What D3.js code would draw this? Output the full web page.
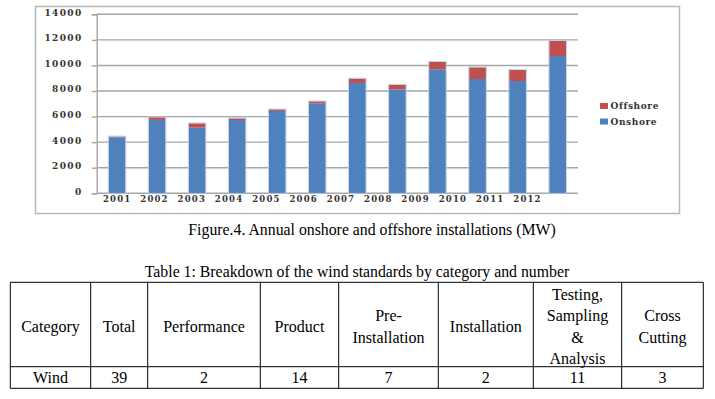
<!DOCTYPE html>
<html>
<head>
<meta charset="utf-8">
<script src="https://cdn.jsdelivr.net/npm/d3@7"></script>
<style>
  body { margin: 0; background: #fff; }
  svg { display: block; }
  .tick text { font-family: "DejaVu Serif", serif; font-weight: bold; font-size: 8.5px; fill: #333; letter-spacing: 1.2px; }
  .yaxis .tick text { font-size: 9px; letter-spacing: 1.4px; }
  .legend text { font-family: "DejaVu Serif", serif; font-weight: bold; font-size: 9px; fill: #333; letter-spacing: 0.6px; }
  .cap { font-family: "Liberation Serif", "Times New Roman", serif; font-size: 15.8px; fill: #000; }
  .cell { font-family: "Liberation Serif", "Times New Roman", serif; font-size: 16px; fill: #000; }
</style>
</head>
<body>
<div id="chart"></div>
<script>
var years = ["2001","2002","2003","2004","2005","2006","2007","2008","2009","2010","2011","2012"];
var onshore  = [4380, 5740, 5130, 5730, 6440, 7040, 8630, 8130, 9700, 8940, 8780, 10740];
var offshore = [ 60,  200,  340,  130,  120,  150,  340,  360,  570,  910,  860,  1170];
var yTicks = [0, 2000, 4000, 6000, 8000, 10000, 12000, 14000];
var seriesNames = ["Onshore", "Offshore"];
var seriesColors = ["#4f81bd", "#c0504d"];

var tableHead = ["Category", "Total", "Performance", "Product", "Pre-\nInstallation", "Installation", "Testing,\nSampling\n&\nAnalysis", "Cross\nCutting"];
var tableRow = ["Wind", "39", "2", "14", "7", "2", "11", "3"];

var svgWidth = 715;
var svgHeight = 399;
var svg = d3.select("#chart").append("svg")
  .attr("width", svgWidth)
  .attr("height", svgHeight);

// chart frame
svg.append("rect")
  .attr("x", 35.5).attr("y", 6.5)
  .attr("width", 644).attr("height", 207)
  .attr("fill", "#fff")
  .attr("stroke", "#b8b8b8")
  .attr("stroke-width", 1.5);

var plot = { left: 96.7, right: 578, top: 14.3, bottom: 193.3 };

var y = d3.scaleLinear().domain([0, 14000]).range([plot.bottom, plot.top]);
var x = d3.scaleBand().domain(years).range([plot.left, plot.right])
  .paddingInner(0.583).paddingOuter(0.3);
// year labels in the picture drift left of their bars
var xLabel = d3.scalePoint().domain(years).range([116.7, 527]);

// gridlines
svg.append("g")
  .selectAll("line")
  .data(yTicks)
  .enter().append("line")
  .attr("x1", plot.left).attr("x2", plot.right)
  .attr("y1", d => y(d)).attr("y2", d => y(d))
  .attr("stroke", "#a6a6a6")
  .attr("stroke-width", 1.4);

// y axis
var yAxis = svg.append("g")
  .attr("class", "yaxis")
  .attr("transform", `translate(${plot.left}, 0)`)
  .call(d3.axisLeft(y).tickValues(yTicks).tickFormat(d3.format("d")).tickSize(5).tickPadding(9));
yAxis.selectAll("line").attr("stroke", "#a6a6a6").attr("stroke-width", 1.4);
yAxis.select(".domain").attr("stroke", "#a6a6a6").attr("stroke-width", 1.4);
yAxis.selectAll("text").attr("dy", "0.1em");

// x labels
var xAxis = svg.append("g")
  .attr("transform", `translate(0, ${plot.bottom})`)
  .call(d3.axisBottom(xLabel).tickSize(0).tickPadding(3));
xAxis.select(".domain").remove();

// stacked bars
var stackData = years.map((yr, i) => ({ year: yr, Onshore: onshore[i], Offshore: offshore[i] }));
var stacked = d3.stack().keys(seriesNames)(stackData);

svg.append("g")
  .selectAll("g")
  .data(stacked)
  .enter().append("g")
  .attr("fill", (d, i) => seriesColors[i])
  .selectAll("rect")
  .data(d => d)
  .enter().append("rect")
  .attr("x", d => x(d.data.year))
  .attr("y", d => y(d[1]))
  .attr("width", x.bandwidth())
  .attr("height", d => y(d[0]) - y(d[1]));

// bar edges
svg.append("g")
  .selectAll("rect")
  .data(stackData)
  .enter().append("rect")
  .attr("x", d => x(d.year) - 0.5)
  .attr("y", d => y(d.Onshore + d.Offshore) - 0.5)
  .attr("width", x.bandwidth() + 1)
  .attr("height", d => y(0) - y(d.Onshore + d.Offshore) + 0.5)
  .attr("fill", "none")
  .attr("stroke", "#b9cde5")
  .attr("stroke-width", 0.8);

// legend
var legend = svg.append("g").attr("class", "legend");
var legendItems = [{ name: "Offshore", color: seriesColors[1], y: 106 }, { name: "Onshore", color: seriesColors[0], y: 121.5 }];
var li = legend.selectAll("g").data(legendItems).enter().append("g");
li.append("rect")
  .attr("x", 600).attr("y", d => d.y - 3)
  .attr("width", 8).attr("height", 6)
  .attr("fill", d => d.color);
li.append("text")
  .attr("x", 610.5).attr("y", d => d.y)
  .attr("dy", "0.35em")
  .text(d => d.name);

// caption
svg.append("text").attr("class", "cap")
  .attr("x", 372).attr("y", 229.5).attr("dy", "0.35em")
  .attr("text-anchor", "middle")
  .text("Figure.4. Annual onshore and offshore installations (MW)");

svg.append("text").attr("class", "cap")
  .attr("x", 357).attr("y", 271.5).attr("dy", "0.35em")
  .attr("text-anchor", "middle")
  .text("Table 1: Breakdown of the wind standards by category and number");

// table
var colX = [10.3, 90.7, 147.7, 260.3, 338.7, 438.3, 533.3, 621.7, 703.3];
var rowY = [282.3, 366.7, 388.3];
var table = svg.append("g");
table.selectAll("line.v")
  .data(colX)
  .enter().append("line")
  .attr("x1", d => d).attr("x2", d => d)
  .attr("y1", rowY[0]).attr("y2", rowY[2])
  .attr("stroke", "#000").attr("stroke-width", 1);
table.selectAll("line.h")
  .data(rowY)
  .enter().append("line")
  .attr("x1", colX[0]).attr("x2", colX[colX.length - 1])
  .attr("y1", d => d).attr("y2", d => d)
  .attr("stroke", "#000").attr("stroke-width", 1);

var lineH = 21.5;
table.selectAll("text.head")
  .data(tableHead)
  .enter().append("text")
  .attr("class", "cell")
  .attr("text-anchor", "middle")
  .each(function(d, i) {
    var lines = d.split("\n");
    var cx = (colX[i] + colX[i + 1]) / 2;
    var cy = (rowY[0] + rowY[1]) / 2 + 2;
    var t = d3.select(this);
    lines.forEach(function(l, j) {
      t.append("tspan")
        .attr("x", cx)
        .attr("y", cy + (j - (lines.length - 1) / 2) * lineH)
        .attr("dy", "0.35em")
        .text(l);
    });
  });

table.selectAll("text.val")
  .data(tableRow)
  .enter().append("text")
  .attr("class", "cell")
  .attr("text-anchor", "middle")
  .attr("x", (d, i) => (colX[i] + colX[i + 1]) / 2)
  .attr("y", (rowY[1] + rowY[2]) / 2)
  .attr("dy", "0.35em")
  .text(d => d);
</script>
</body>
</html>
